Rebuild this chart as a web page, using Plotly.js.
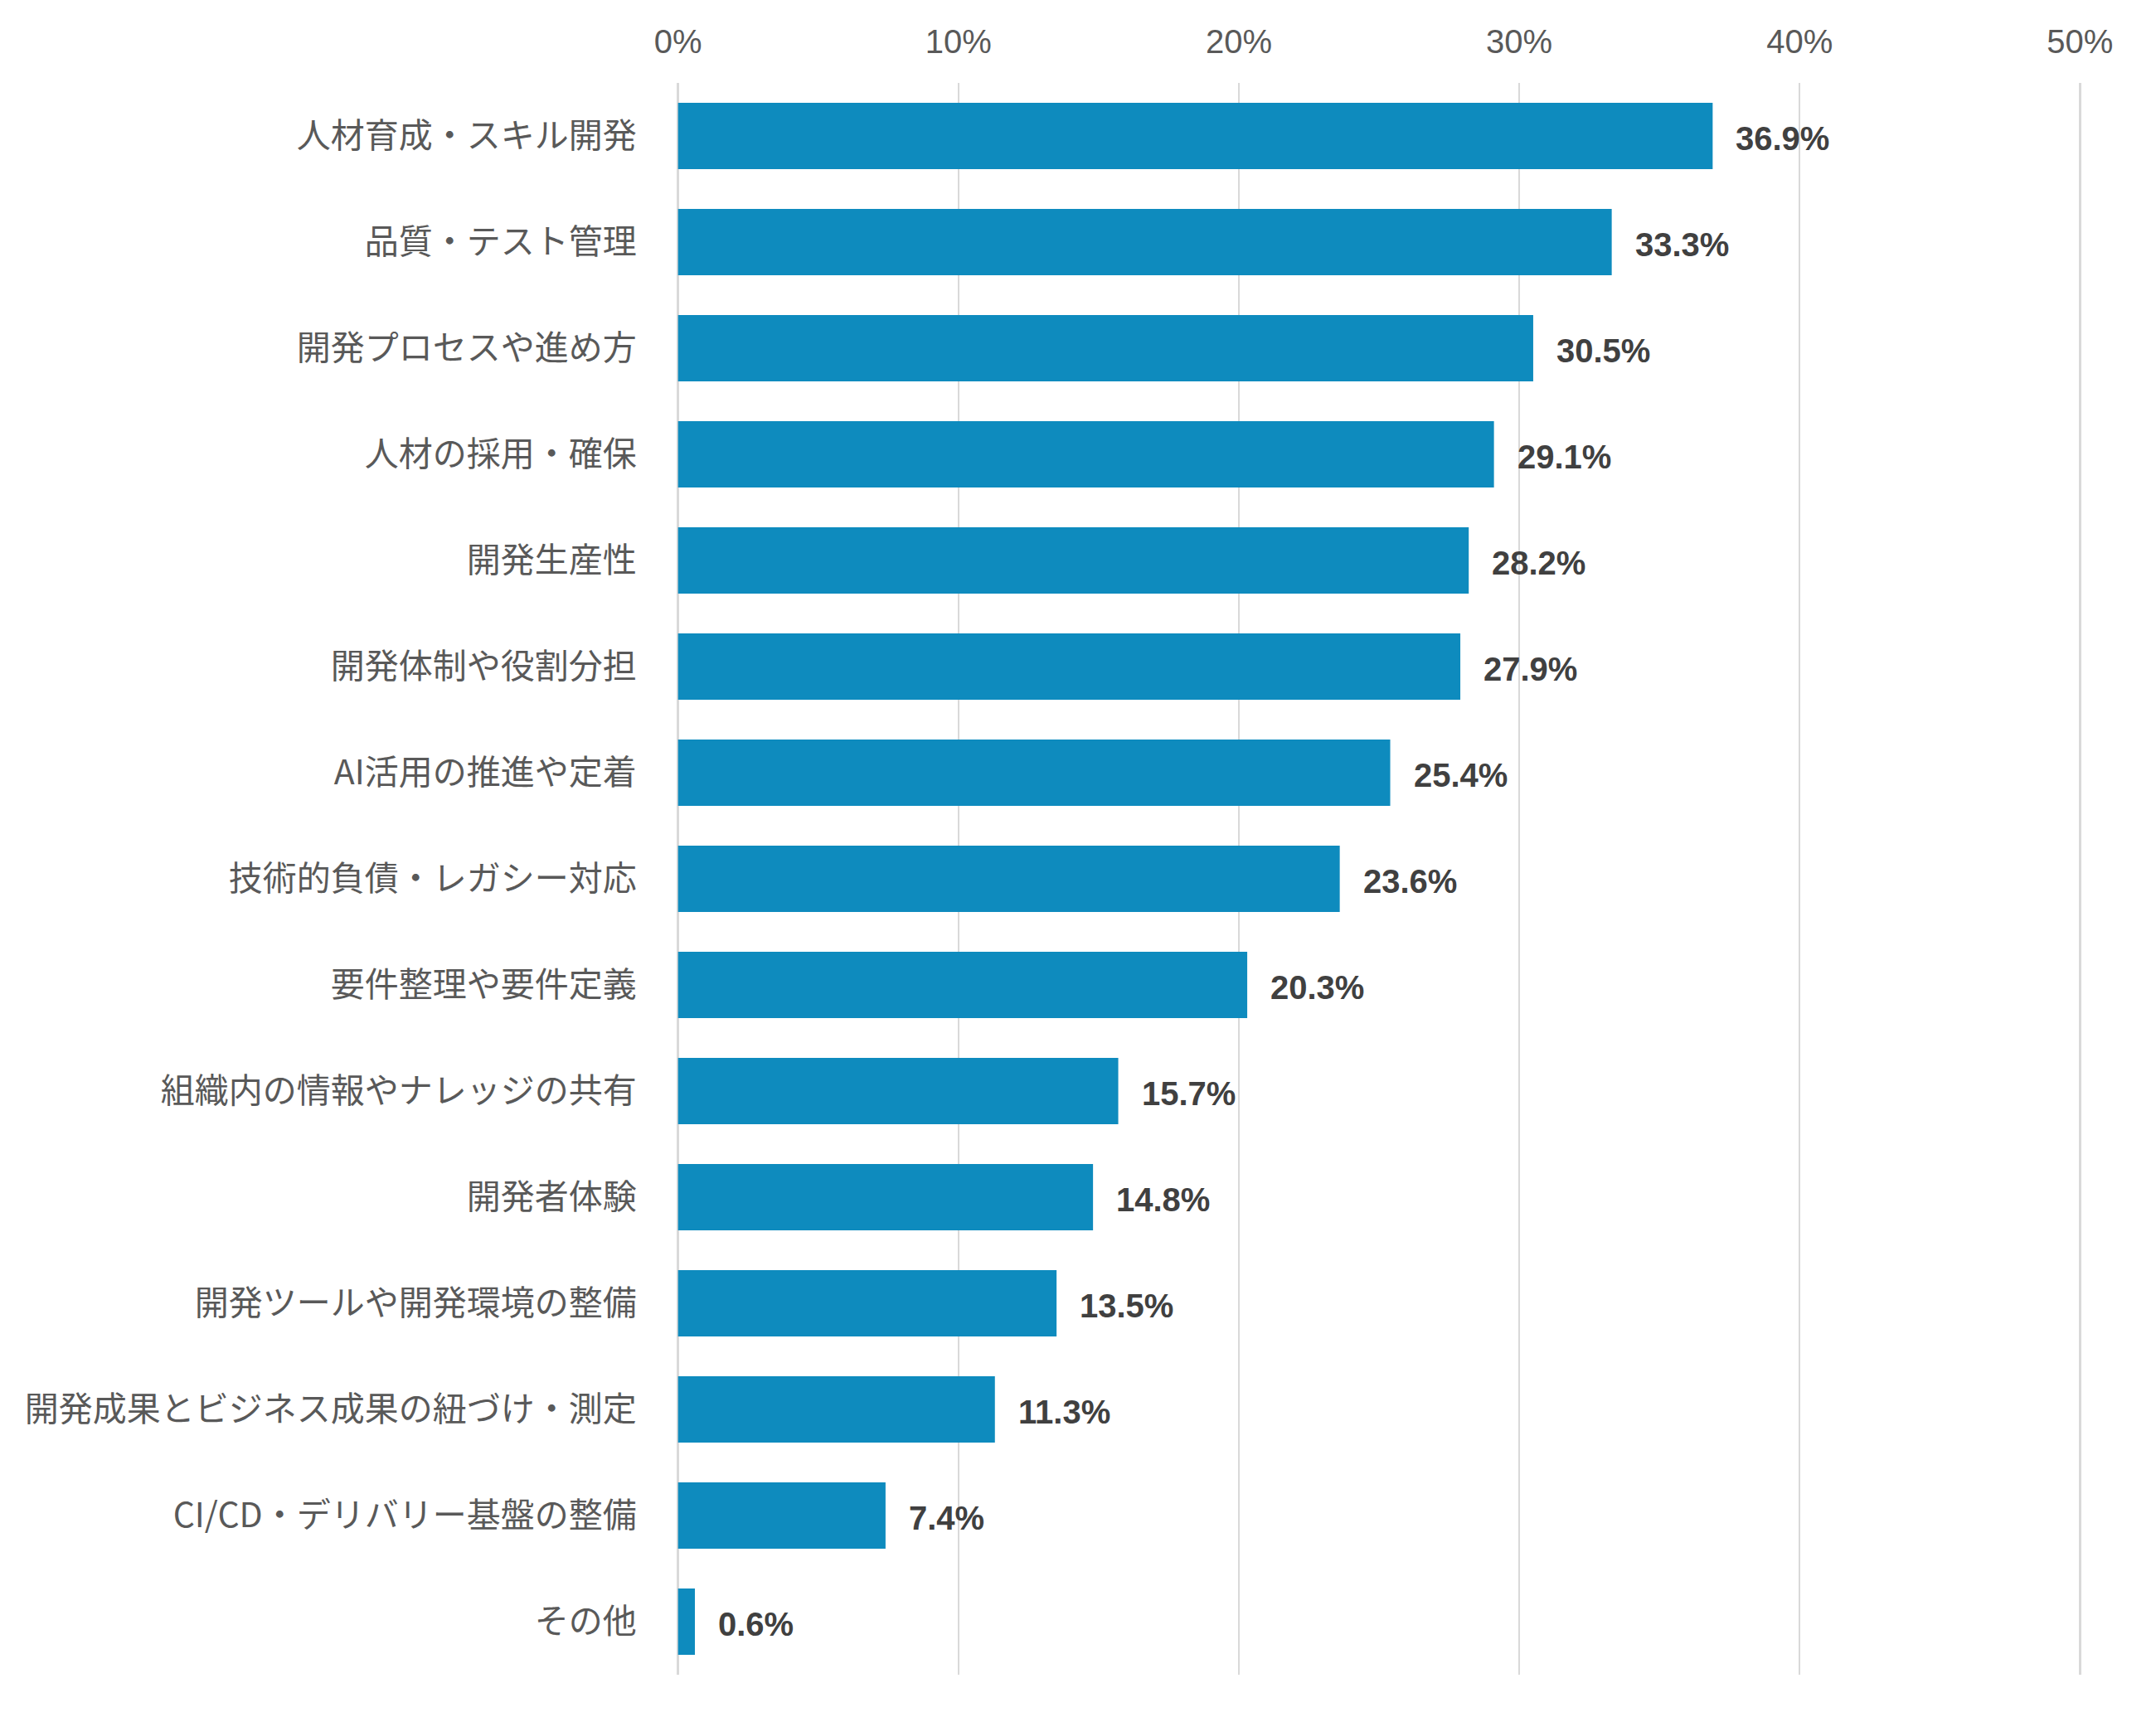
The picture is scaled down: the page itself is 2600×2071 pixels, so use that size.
<!DOCTYPE html>
<html>
<head>
<meta charset="utf-8">
<script src="https://cdn.plot.ly/plotly-3.0.1.min.js"></script>
<style>
  html, body { margin: 0; padding: 0; background: #ffffff; }
  #chart { width: 2600px; height: 2071px; }
</style>
</head>
<body>
<div id="chart"></div>
<script>
const categories = [
  "人材育成・スキル開発",
  "品質・テスト管理",
  "開発プロセスや進め方",
  "人材の採用・確保",
  "開発生産性",
  "開発体制や役割分担",
  "AI活用の推進や定着",
  "技術的負債・レガシー対応",
  "要件整理や要件定義",
  "組織内の情報やナレッジの共有",
  "開発者体験",
  "開発ツールや開発環境の整備",
  "開発成果とビジネス成果の紐づけ・測定",
  "CI/CD・デリバリー基盤の整備",
  "その他"
];
const values = [36.9, 33.3, 30.5, 29.1, 28.2, 27.9, 25.4, 23.6, 20.3, 15.7, 14.8, 13.5, 11.3, 7.4, 0.6];
const tickValues = [0, 10, 20, 30, 40, 50];
const tickLabels = ["0%", "10%", "20%", "30%", "40%", "50%"];

const trace = {
  type: 'bar',
  orientation: 'h',
  x: values,
  y: categories,
  marker: { color: '#0E8BBE', line: { width: 0 } },
  hoverinfo: 'skip'
};

const annotations = values.map((v, i) => ({
  x: v,
  y: categories[i],
  xref: 'x',
  yref: 'y',
  text: v.toFixed(1) + '%',
  showarrow: false,
  xanchor: 'left',
  yanchor: 'middle',
  xshift: 26,
  yshift: -3,
  font: { family: '"Liberation Sans", Arial, sans-serif', size: 40, color: '#404040', weight: 'bold' }
}));

const layout = {
  width: 2600,
  height: 2071,
  margin: { l: 815, r: 89, t: 100, b: 51, pad: 0 },
  paper_bgcolor: '#ffffff',
  plot_bgcolor: '#ffffff',
  showlegend: false,
  bargap: 0.375,
  xaxis: {
    side: 'top',
    range: [-0.08, 50.08],
    tickvals: tickValues,
    ticktext: tickLabels,
    showgrid: true,
    gridcolor: '#D9D9D9',
    gridwidth: 2.5,
    zeroline: false,
    showline: false,
    ticks: 'outside',
    ticklen: 19,
    tickcolor: 'rgba(0,0,0,0)',
    tickfont: { family: '"Liberation Sans", Arial, sans-serif', size: 40, color: '#595959' },
    fixedrange: true
  },
  yaxis: {
    autorange: 'reversed',
    showgrid: false,
    zeroline: false,
    showline: false,
    ticks: 'outside',
    ticklen: 38,
    tickcolor: 'rgba(0,0,0,0)',
    tickfont: { family: '"Noto Sans CJK JP", "Noto Sans", sans-serif', size: 41, color: '#595959' },
    fixedrange: true
  },
  annotations: annotations
};

Plotly.newPlot('chart', [trace], layout, { displayModeBar: false, staticPlot: true });
</script>
</body>
</html>
